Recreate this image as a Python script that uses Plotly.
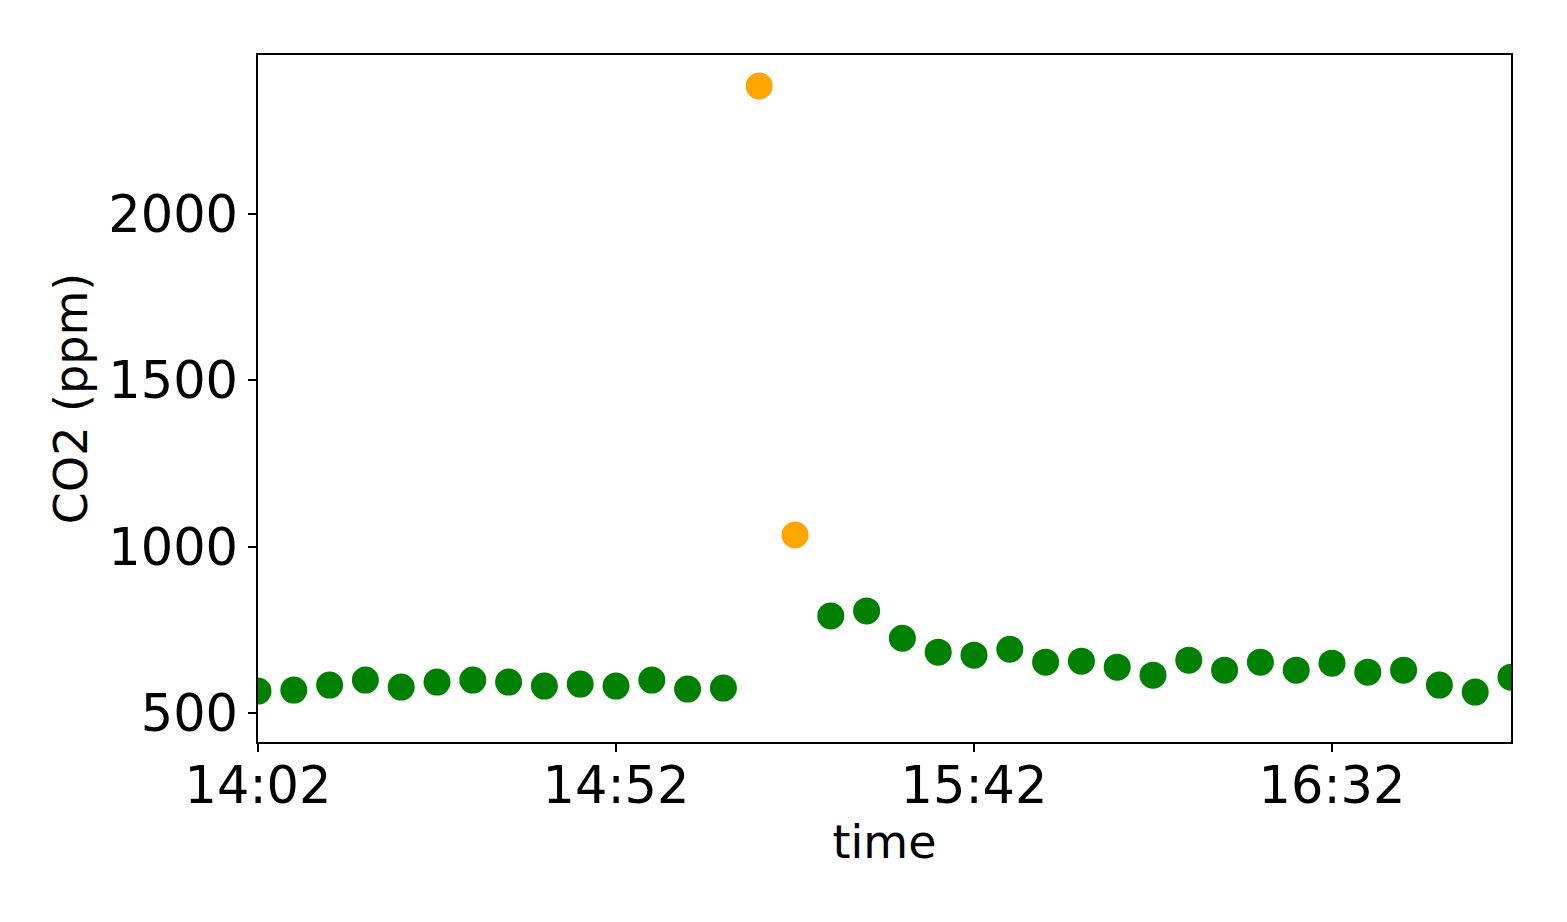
import plotly.graph_objects as go
import pandas as pd

start_time = "2024-01-01 14:02"
n_points = 36
times = pd.date_range(start_time, periods=n_points, freq="5min")

co2_ppm = [566, 569, 584, 599, 578, 593, 599, 593, 581, 587, 581, 599, 572, 575,
           2385, 1035,
           792, 807, 725, 683, 674, 692, 653, 656, 638, 614, 659, 629, 653, 629,
           650, 623, 629, 584, 563, 608]

threshold = 1000
colors = ["orange" if v > threshold else "green" for v in co2_ppm]

x_tick_vals = ["2024-01-01 14:02", "2024-01-01 14:52", "2024-01-01 15:42", "2024-01-01 16:32"]
x_tick_text = ["14:02", "14:52", "15:42", "16:32"]
y_tick_vals = [500, 1000, 1500, 2000]

fig = go.Figure()
fig.add_trace(go.Scatter(
    x=times, y=co2_ppm, mode="markers",
    marker=dict(color=colors, size=27, line=dict(width=0)),
    showlegend=False,
))

font_family = "DejaVu Sans"
fig.update_layout(
    width=1567, height=922,
    margin=dict(l=250, r=64, t=47, b=188),
    paper_bgcolor="white", plot_bgcolor="white",
    font=dict(family=font_family, color="black"),
)
fig.update_xaxes(
    range=[times[0], times[-1]],
    tickvals=x_tick_vals, ticktext=x_tick_text,
    ticks="outside", ticklen=8, tickwidth=1.5, tickcolor="black",
    tickfont=dict(size=51, family=font_family),
    ticklabelstandoff=-10,
    showline=True, linecolor="black", linewidth=1.5, mirror=True,
    showgrid=False, zeroline=False,
    title=dict(text="time", font=dict(size=46, family=font_family), standoff=8),
)
fig.update_yaxes(
    range=[413, 2478],
    tickvals=y_tick_vals,
    ticks="outside", ticklen=8, tickwidth=1.5, tickcolor="black",
    tickfont=dict(size=51, family=font_family),
    showline=True, linecolor="black", linewidth=1.5, mirror=True,
    showgrid=False, zeroline=False,
    title=dict(text="CO2 (ppm)", font=dict(size=46, family=font_family), standoff=6),
)

fig.write_html("out.html")
